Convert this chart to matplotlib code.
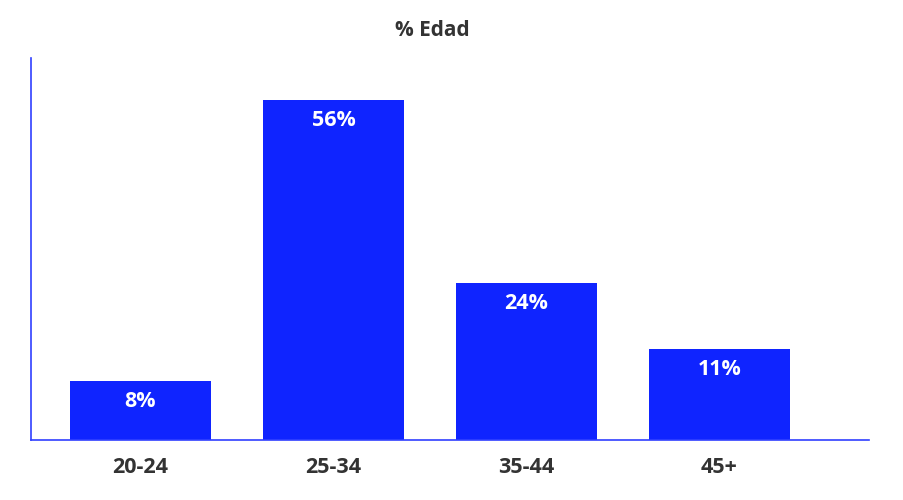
import matplotlib.pyplot as plt

categories = ["20-24", "25-34", "35-44", "45+"]
heights = [9.7, 56.0, 25.9, 15.0]
labels = ["8%", "56%", "24%", "11%"]

BAR = "#0f24ff"
SPINE = "#3040ff"
TEXT = "#333333"

plt.rcParams["font.family"] = ["Open Sans", "DejaVu Sans"]

fig = plt.figure(figsize=(9.04, 5.0), dpi=100)
ax = fig.add_axes([31 / 904, 60 / 500, 838 / 904, 382 / 500])

x = range(len(categories))
bars = ax.bar(x, heights, width=0.73, color=BAR)
for b, lab in zip(bars, labels):
    ax.annotate(lab, (b.get_x() + b.get_width() / 2, b.get_height()),
                xytext=(0, -15), textcoords="offset points",
                ha="center", va="center", color="white",
                fontsize=15.5, fontweight="bold")

ax.set_xlim(-0.567, 3.775)
ax.set_ylim(0, 62.9)
ax.set_xticks(list(x))
ax.set_xticklabels(categories, fontsize=15.5, fontweight="bold", color=TEXT)
ax.tick_params(axis="x", length=0, pad=12)
ax.set_yticks([])
for side in ("top", "right"):
    ax.spines[side].set_visible(False)
for side in ("left", "bottom"):
    ax.spines[side].set_color(SPINE)
    ax.spines[side].set_linewidth(1.2)

fig.text(432 / 904, 1 - 30 / 500, "% Edad", ha="center", va="center",
         fontsize=15, fontweight="bold", color=TEXT)

fig.savefig("out.png", dpi=100)
